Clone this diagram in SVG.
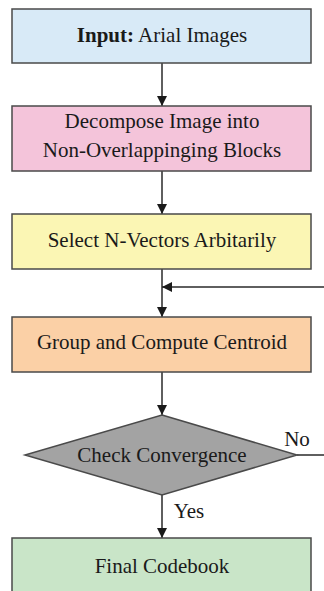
<svg xmlns="http://www.w3.org/2000/svg" width="324" height="591" viewBox="0 0 324 591">
<defs>
<marker id="ah" markerWidth="10" markerHeight="10" refX="10" refY="5" orient="auto" markerUnits="userSpaceOnUse">
<path d="M0,0 L10,5 L0,10 Z" fill="#1a1a1a"/>
</marker>
<style>
.box{stroke:#4a4a4a;stroke-width:1.5}
.t{font-family:'Liberation Serif','Times New Roman',serif;font-size:21px;fill:#1a1a1a;text-anchor:middle}
.ln{stroke:#2a2a2a;stroke-width:1.5;fill:none}
</style>
</defs>
<rect width="324" height="591" fill="#ffffff"/>
<g id="connectors">
<line class="ln" x1="162" y1="63" x2="162" y2="106" marker-end="url(#ah)"/>
<line class="ln" x1="162" y1="171" x2="162" y2="214" marker-end="url(#ah)"/>
<line class="ln" x1="162" y1="269" x2="162" y2="317" marker-end="url(#ah)"/>
<line class="ln" x1="324" y1="287" x2="162" y2="287" marker-end="url(#ah)"/>
<line class="ln" x1="162" y1="372" x2="162" y2="415" marker-end="url(#ah)"/>
<line class="ln" x1="162" y1="495" x2="162" y2="538" marker-end="url(#ah)"/>
<line class="ln" x1="297" y1="455" x2="324" y2="455"/>
<text class="t" x="297" y="446">No</text>
<text class="t" x="189" y="518">Yes</text>
</g>
<g id="input">
<rect class="box" x="12" y="9" width="299" height="54" fill="#d8eaf7"/>
<text class="t" x="162" y="42"><tspan font-weight="bold">Input:</tspan> Arial Images</text>
</g>
<g id="decompose">
<rect class="box" x="12" y="106" width="299" height="65" fill="#f4c4da"/>
<text class="t" x="162" y="128">Decompose Image into</text>
<text class="t" x="162" y="157">Non-Overlappinging Blocks</text>
</g>
<g id="select">
<rect class="box" x="12" y="214" width="299" height="55" fill="#fbf6b4"/>
<text class="t" x="162" y="247">Select N-Vectors Arbitarily</text>
</g>
<g id="group">
<rect class="box" x="12" y="317" width="299" height="55" fill="#fbd0a6"/>
<text class="t" x="162" y="349">Group and Compute Centroid</text>
</g>
<g id="check">
<polygon class="box" points="162,415 297,455 162,495 25,455" fill="#a3a3a3"/>
<text class="t" x="162" y="462">Check Convergence</text>
</g>
<g id="final">
<rect class="box" x="12" y="538" width="299" height="60" fill="#c9e5c8"/>
<text class="t" x="162" y="573">Final Codebook</text>
</g>
</svg>
